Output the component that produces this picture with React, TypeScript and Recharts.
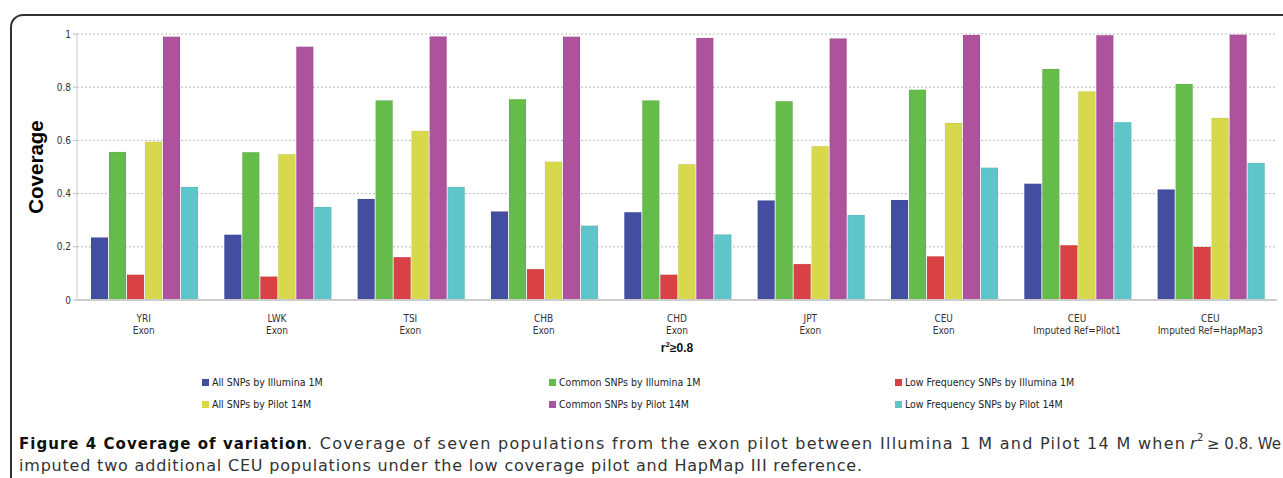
import React from 'react';
import { BarChart, Bar, XAxis, YAxis, CartesianGrid } from 'recharts';

const categories = ['YRI', 'LWK', 'TSI', 'CHB', 'CHD', 'JPT', 'CEU', 'CEU', 'CEU'];
const subLabels = ['Exon', 'Exon', 'Exon', 'Exon', 'Exon', 'Exon', 'Exon', 'Imputed Ref=Pilot1', 'Imputed Ref=HapMap3'];

const allIllumina = [0.235, 0.245, 0.38, 0.333, 0.33, 0.374, 0.376, 0.437, 0.415];
const commonIllumina = [0.556, 0.555, 0.75, 0.755, 0.75, 0.747, 0.79, 0.868, 0.812];
const lowIllumina = [0.095, 0.088, 0.161, 0.116, 0.095, 0.135, 0.164, 0.206, 0.199];
const allPilot = [0.595, 0.548, 0.635, 0.52, 0.51, 0.578, 0.665, 0.784, 0.684];
const commonPilot = [0.99, 0.952, 0.991, 0.99, 0.985, 0.983, 0.996, 0.995, 0.997];
const lowPilot = [0.425, 0.35, 0.425, 0.279, 0.246, 0.32, 0.497, 0.668, 0.515];

const yTicks = [0, 0.2, 0.4, 0.6, 0.8, 1];

const seriesNames = [
  'All SNPs by Illumina 1M',
  'Common SNPs by Illumina 1M',
  'Low Frequency SNPs by Illumina 1M',
  'All SNPs by Pilot 14M',
  'Common SNPs by Pilot 14M',
  'Low Frequency SNPs by Pilot 14M',
];
const seriesColors = ['#434EA1', '#65BC4B', '#D94244', '#D8D94A', '#AE529E', '#5EC5CA'];
const seriesValues = [allIllumina, commonIllumina, lowIllumina, allPilot, commonPilot, lowPilot];
const seriesKeys = ['s0', 's1', 's2', 's3', 's4', 's5'];

const data = categories.map((name, i) => {
  const row: any = { name, idx: i };
  seriesKeys.forEach((k, j) => {
    row[k] = seriesValues[j][i];
  });
  return row;
});

const FONT = '"DejaVu Sans Condensed", "DejaVu Sans", sans-serif';
const CAPTION_FONT = '"DejaVu Sans", sans-serif';

const XTick = (props: any) => {
  const { x, y, payload } = props;
  const i = payload.index;
  return (
    <g>
      <text x={x} y={y + 14} textAnchor="middle" fontSize={10} fill="#333" fontFamily={FONT}>
        {categories[i]}
      </text>
      <text x={x} y={y + 26} textAnchor="middle" fontSize={10} fill="#333" fontFamily={FONT}>
        {subLabels[i]}
      </text>
    </g>
  );
};

const ChartLegend = () => {
  const colX = [202, 549, 895];
  return (
    <div style={{ position: 'absolute', left: 0, top: 376, width: 1283, height: 50 }}>
      {seriesNames.map((n, i) => {
        const col = i % 3;
        const row = Math.floor(i / 3);
        return (
          <div
            key={n}
            style={{
              position: 'absolute',
              left: colX[col],
              top: row * 22,
              display: 'flex',
              alignItems: 'center',
              fontFamily: FONT,
              fontSize: 10.5,
              color: '#222',
              whiteSpace: 'nowrap',
            }}
          >
            <span style={{ display: 'inline-block', width: 7, height: 7, background: seriesColors[i], marginRight: 3 }} />
            {n}
          </div>
        );
      })}
    </div>
  );
};

export default function App() {
  return (
    <div style={{ position: 'fixed', left: 0, top: 0, width: 1283, height: 478, overflow: 'hidden', background: '#fff' }}>
      <div
        style={{
          position: 'absolute',
          left: 10,
          top: 14,
          width: 1400,
          height: 600,
          border: '2px solid #333',
          borderTopLeftRadius: 13,
          boxSizing: 'border-box',
        }}
      />
      <div style={{ position: 'absolute', left: 0, top: 0 }}>
        <BarChart
          width={1283}
          height={360}
          data={data}
          margin={{ top: 34, right: 6, bottom: 20, left: 0 }}
          barCategoryGap={14}
          barGap={1}
        >
          <CartesianGrid vertical={false} stroke="#bbb" strokeDasharray="2 2" />
          <XAxis
            dataKey="name"
            tick={<XTick />}
            tickLine={false}
            axisLine={{ stroke: '#ccc', strokeWidth: 2 }}
            height={40}
            interval={0}
          />
          <YAxis
            type="number"
            domain={[0, 1]}
            ticks={yTicks}
            width={77}
            tickLine={{ stroke: '#bbb' }}
            tickSize={4}
            axisLine={{ stroke: '#ccc' }}
            tick={{ fontSize: 10, fill: '#333', fontFamily: FONT }}
            tickFormatter={(v: number) => String(v)}
            label={{
              value: 'Coverage',
              angle: -90,
              position: 'insideLeft',
              offset: 0,
              dx: 36,
              style: { fontSize: 20.5, fontWeight: 'bold', fill: '#000', fontFamily: '"Liberation Sans", Arial, sans-serif', textAnchor: 'middle' },
            }}
          />
          {seriesKeys.map((k, j) => (
            <Bar
              key={k}
              dataKey={k}
              name={seriesNames[j]}
              fill={seriesColors[j]}
              stroke="rgba(0,0,0,0.06)"
              isAnimationActive={false}
            />
          ))}
        </BarChart>
      </div>
      <div
        style={{
          position: 'absolute',
          left: 0,
          width: 1354,
          top: 340,
          textAlign: 'center',
          fontFamily: '"Liberation Sans", Arial, sans-serif',
          fontWeight: 'bold',
          fontSize: 12,
          color: '#111',
        }}
      >
        r<sup style={{ fontSize: 8 }}>2</sup>≥0.8
      </div>
      <ChartLegend />
      <svg style={{ position: 'absolute', left: 0, top: 425 }} width={1283} height={53}>
        <g fontFamily={CAPTION_FONT} fontSize={16} fill="#333">
          <text x={19} y={24} fontWeight="bold" fill="#111" fontSize={15} textLength={288} lengthAdjust="spacing">
            Figure 4 Coverage of variation
          </text>
          <text x={307} y={24} textLength={878} lengthAdjust="spacing">
            . Coverage of seven populations from the exon pilot between Illumina 1 M and Pilot 14 M when
          </text>
          <text x={1190} y={24} fontStyle="italic">r</text>
          <text x={1197} y={16} fontSize={10}>2</text>
          <text x={1207} y={24} fontSize={15}>≥ 0.8. We</text>
          <text x={19} y={46} textLength={843} lengthAdjust="spacing">
            imputed two additional CEU populations under the low coverage pilot and HapMap III reference.
          </text>
        </g>
      </svg>
    </div>
  );
}
